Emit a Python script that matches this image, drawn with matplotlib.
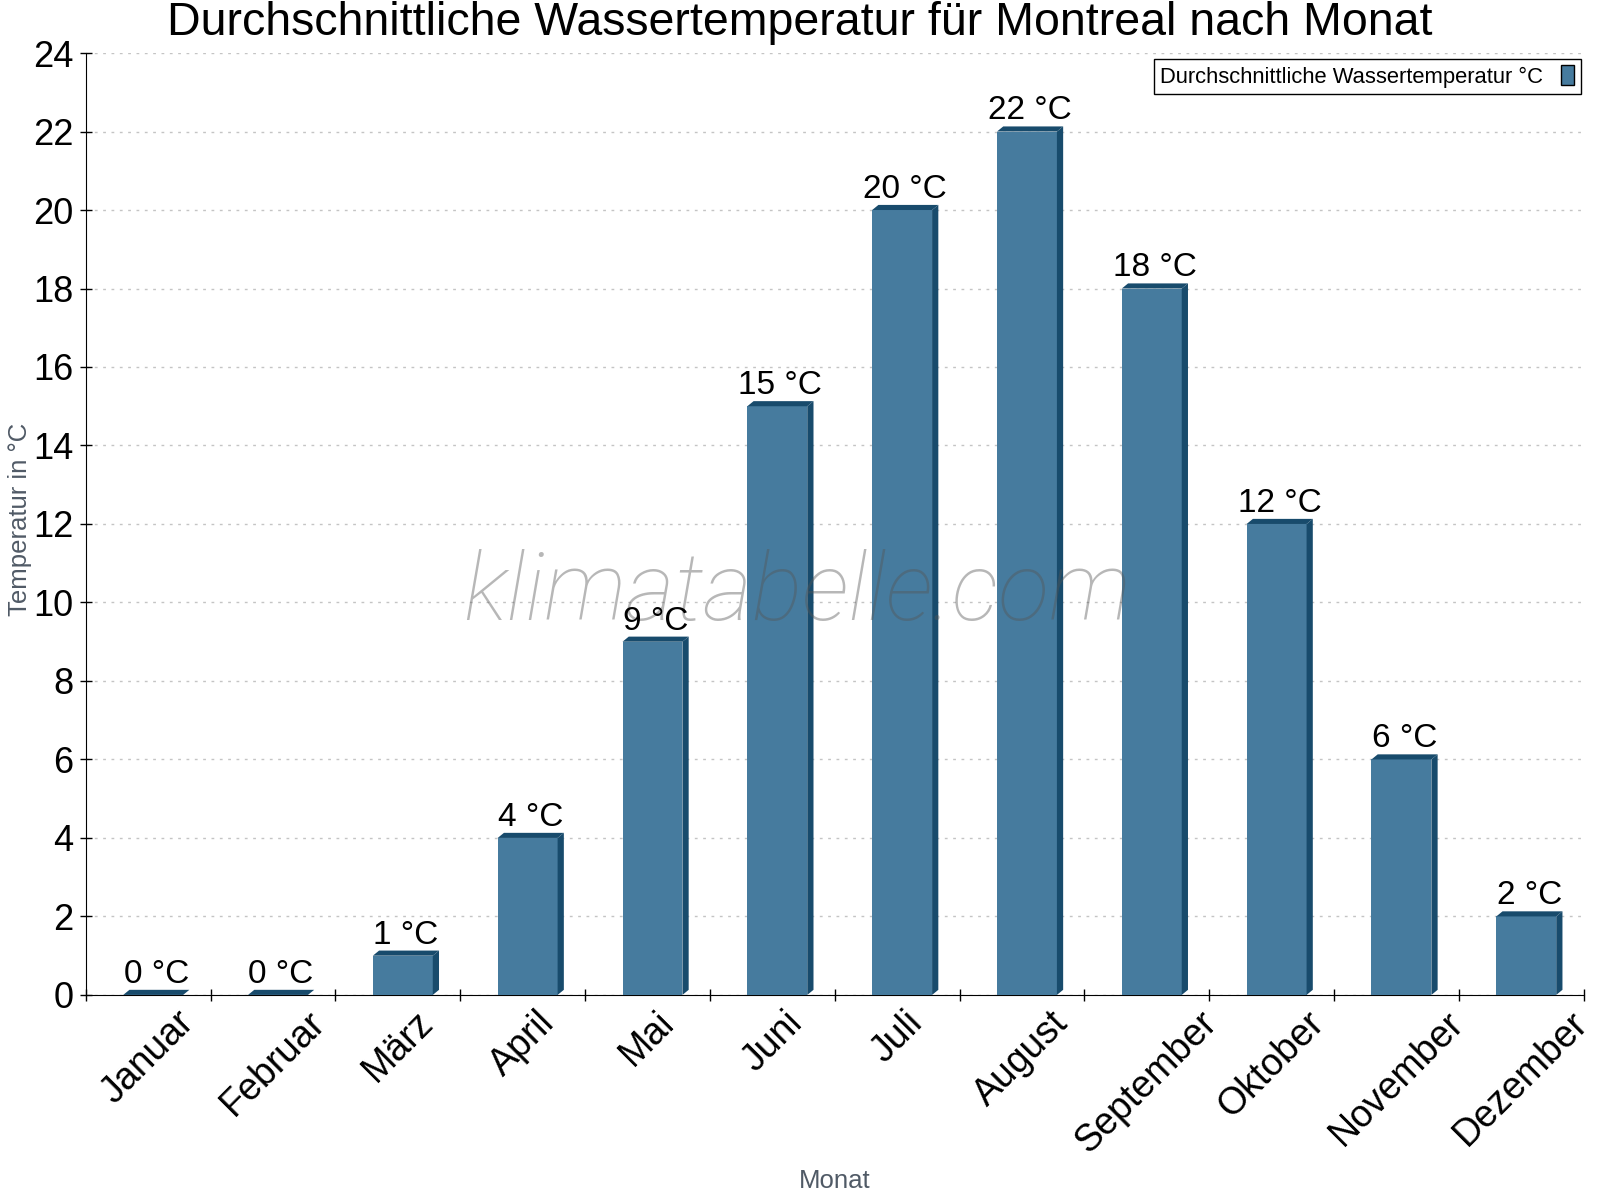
import matplotlib
matplotlib.use("Agg")
import matplotlib.pyplot as plt
from matplotlib.patches import Polygon, Patch
import numpy as np

months = ["Januar", "Februar", "März", "April", "Mai", "Juni", "Juli",
          "August", "September", "Oktober", "November", "Dezember"]
water_temp = [0, 0, 1, 4, 9, 15, 20, 22, 18, 12, 6, 2]
yticks = list(range(0, 25, 2))

front_col = "#467b9e"
dark_col = "#184b6c"

plt.rcParams["font.family"] = ["Liberation Sans", "DejaVu Sans"]

fig = plt.figure(figsize=(16, 12), dpi=100)
ax = fig.add_axes([0.0536, 0.1709, 0.9362, 0.7849])

x = np.arange(len(months))
width = 0.48
shift = 0.04
dx = 0.05
dy = 0.13

ax.bar(x + shift, water_temp, width=width, color=front_col, zorder=3)
for xi, v in zip(x, water_temp):
    x0 = xi + shift - width / 2
    x1 = xi + shift + width / 2
    top = Polygon([(x0, v), (x1, v), (x1 + dx, v + dy), (x0 + dx, v + dy)],
                  closed=True, facecolor=dark_col, edgecolor="none", zorder=3)
    side = Polygon([(x1, 0), (x1, v), (x1 + dx, v + dy), (x1 + dx, dy)],
                   closed=True, facecolor=dark_col, edgecolor="none", zorder=3)
    ax.add_patch(top)
    ax.add_patch(side)
    ax.annotate(f"{v} °C", (xi + shift + dx / 2, v + dy), xytext=(0, 0),
                textcoords="offset points", ha="center", va="bottom",
                fontsize=24, zorder=6)

ax.set_xlim(-0.5, len(months) - 0.5)
ax.set_ylim(0, 24)
ax.set_yticks(yticks)
ax.set_yticklabels([str(t) for t in yticks], fontsize=26)
ax.set_xticks(np.arange(len(months) + 1) - 0.5)
ax.set_xticklabels([])
ax.set_xticks(x, minor=True)
ax.set_xticklabels(months, minor=True, rotation=45, ha="center", fontsize=27)
ax.tick_params(axis="x", which="minor", length=0, pad=7)
ax.tick_params(axis="y", pad=5)
ax.tick_params(axis="both", which="major", direction="inout", length=8, width=1)

ax.grid(axis="y", color="#c4c4c4", linestyle=(0, (2, 4)), linewidth=1, zorder=0)
ax.spines["top"].set_visible(False)
ax.spines["right"].set_visible(False)

ax.set_ylabel("Temperatur in °C", fontsize=18.5, color="#505a66")
ax.yaxis.set_label_coords(-0.036, 0.505)
xl = ax.set_xlabel("Monat", fontsize=18.5, color="#505a66")
xl.set_va("center")
ax.xaxis.set_label_coords(0.5, -0.198)

fig.text(0.5, 0.981, "Durchschnittliche Wassertemperatur für Montreal nach Monat",
         ha="center", va="center", fontsize=33.5)

# watermark
ax.text(0.475, 0.425, "klimatabelle.com", transform=ax.transAxes,
        ha="center", va="center", fontsize=68, style="italic", weight="light",
        family=["Roboto", "DejaVu Sans"], color="#555555", alpha=0.42, zorder=5)

handle = Patch(facecolor=front_col, edgecolor="black", linewidth=1)
leg = ax.legend([handle], ["Durchschnittliche Wassertemperatur °C"],
                loc="upper right", bbox_to_anchor=(0.998, 0.994),
                borderaxespad=0, fontsize=15.8, markerfirst=False,
                fancybox=False, framealpha=1, edgecolor="black",
                handlelength=0.6, handleheight=1.0, handletextpad=0.8,
                borderpad=0.3)
leg.get_frame().set_linewidth(1)
leg.set_zorder(7)

fig.savefig("out.png", dpi=100)
